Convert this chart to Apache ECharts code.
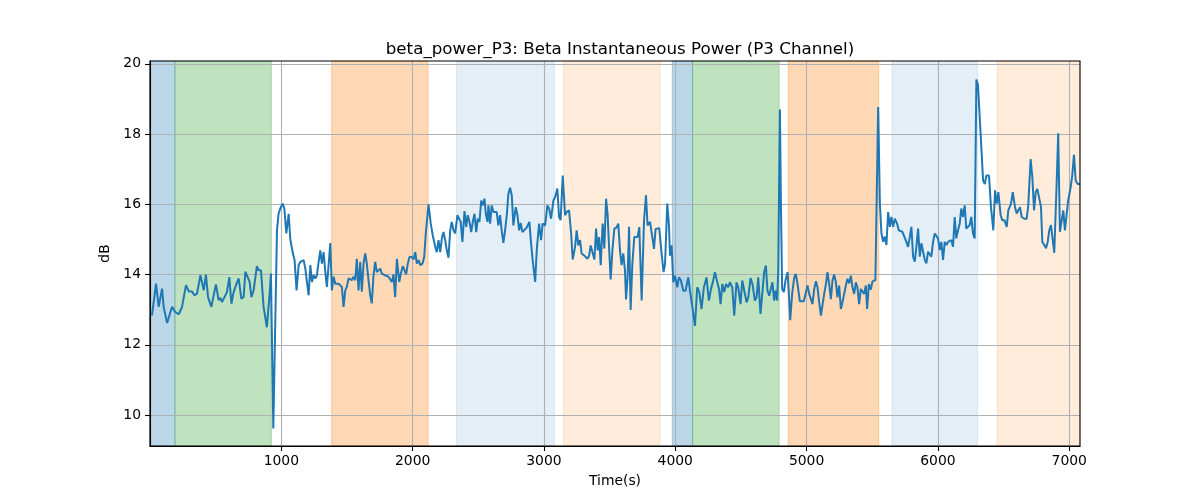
<!DOCTYPE html>
<html><head><meta charset="utf-8">
<script src="https://cdn.jsdelivr.net/npm/echarts@6/dist/echarts.min.js"></script>
<style>html,body{margin:0;padding:0;background:#fff}#c{width:1200px;height:500px}</style>
</head><body><div id="c"></div>
<script>
const times = [15,46,66,92,104,130,143,168,193,219,244,274,295,320,338,358,384,396,409,426,442,467,480,502,523,536,548,561,586,604,620,637,655,675,696,713,726,741,759,772,789,814,827,845,865,890,911,921,939,967,979,992,1010,1023,1038,1056,1068,1086,1101,1116,1132,1145,1157,1170,1183,1190,1208,1221,1233,1246,1259,1271,1284,1297,1309,1322,1335,1347,1360,1373,1385,1398,1411,1423,1436,1449,1461,1474,1487,1499,1512,1525,1537,1550,1563,1575,1588,1601,1613,1626,1639,1651,1664,1677,1689,1702,1715,1727,1740,1753,1765,1778,1791,1803,1816,1829,1842,1854,1867,1880,1898,1910,1925,1938,1951,1963,1976,1994,2007,2020,2032,2045,2058,2075,2088,2100,2121,2138,2153,2172,2184,2197,2210,2222,2235,2248,2260,2273,2286,2298,2311,2324,2341,2354,2366,2379,2395,2408,2420,2433,2446,2458,2471,2484,2496,2509,2522,2534,2547,2557,2570,2577,2590,2602,2615,2628,2640,2653,2666,2678,2691,2704,2717,2729,2742,2755,2767,2785,2798,2811,2823,2836,2849,2869,2889,2902,2914,2933,2945,2963,2978,2990,3009,3026,3039,3054,3072,3085,3102,3115,3127,3143,3161,3173,3191,3207,3219,3237,3249,3262,3275,3287,3300,3313,3331,3343,3356,3369,3384,3397,3409,3420,3432,3447,3460,3473,3485,3498,3508,3521,3536,3553,3566,3579,3591,3604,3617,3625,3637,3648,3660,3673,3688,3713,3726,3744,3762,3777,3789,3808,3820,3838,3850,3865,3878,3896,3911,3922,3939,3952,3960,3972,3985,3998,4015,4028,4043,4061,4078,4099,4112,4129,4150,4167,4183,4200,4218,4238,4256,4272,4289,4302,4320,4333,4345,4358,4373,4386,4403,4416,4434,4449,4466,4479,4497,4510,4525,4543,4556,4573,4588,4606,4619,4632,4649,4662,4677,4690,4702,4715,4728,4740,4753,4763,4776,4784,4797,4804,4814,4827,4839,4855,4865,4875,4890,4906,4918,4931,4949,4961,4979,4994,5007,5020,5033,5045,5058,5071,5083,5096,5109,5121,5134,5147,5159,5172,5185,5197,5210,5223,5235,5248,5261,5273,5286,5299,5311,5324,5337,5349,5362,5375,5387,5400,5413,5425,5438,5451,5461,5474,5489,5501,5524,5545,5558,5570,5583,5596,5608,5621,5634,5646,5659,5672,5689,5702,5714,5729,5742,5755,5773,5786,5798,5811,5824,5836,5849,5862,5874,5887,5900,5912,5925,5938,5950,5963,5976,5988,6001,6014,6026,6039,6052,6064,6077,6090,6102,6115,6128,6140,6153,6166,6178,6191,6204,6216,6229,6242,6254,6267,6280,6293,6305,6321,6344,6357,6369,6389,6404,6422,6435,6448,6460,6478,6490,6506,6524,6536,6557,6570,6587,6600,6612,6625,6638,6658,6676,6688,6706,6719,6732,6745,6757,6772,6785,6795,6810,6823,6836,6848,6861,6874,6886,6904,6916,6929,6942,6955,6967,6980,6992,7011,7023,7036,7049,7064,7082];
const powerDb = [12.84,13.74,13.08,13.6,13.08,12.62,12.65,13.08,12.93,12.87,13.08,13.7,13.52,13.52,13.41,13.46,13.98,14.0,13.55,14.0,13.36,13.08,13.12,13.72,13.27,13.34,13.22,13.31,13.5,13.93,13.17,13.5,13.7,13.89,13.31,13.36,14.08,14.08,13.79,13.36,13.55,14.24,14.12,14.12,13.08,12.5,13.46,14.03,9.62,15.26,15.73,15.88,16.02,15.88,15.17,15.73,15.02,14.64,14.41,13.55,14.27,14.36,14.31,14.41,14.17,13.94,13.41,14.27,13.79,13.98,13.89,13.98,14.36,14.69,14.31,14.64,14.07,13.65,13.6,14.9,13.55,13.94,13.74,13.79,13.74,13.7,13.65,13.08,13.55,13.65,13.89,13.94,13.84,13.94,13.84,14.45,13.55,14.36,13.51,14.31,14.6,14.31,13.84,13.41,13.18,13.98,14.36,14.07,14.12,14.17,14.03,14.03,13.98,14.01,13.94,13.94,13.79,14.01,13.36,14.45,13.79,14.03,14.24,14.12,14.01,14.31,14.5,14.5,14.43,14.64,14.31,14.41,14.27,14.31,14.5,15.17,16.0,15.45,15.12,14.79,14.64,14.98,14.64,15.02,15.21,14.98,14.69,14.48,15.26,15.5,15.26,15.17,15.69,15.73,15.5,14.93,15.81,15.36,15.69,15.5,15.21,15.5,15.73,15.21,15.59,15.5,16.11,15.97,16.16,15.73,15.5,15.97,15.45,15.97,15.78,15.83,15.78,15.4,15.69,15.26,14.9,15.26,15.69,16.3,16.47,16.25,15.4,15.92,15.69,15.26,15.47,15.21,15.26,15.34,15.5,14.88,14.41,13.79,14.69,15.45,14.98,15.45,15.4,15.97,15.88,15.59,16.11,16.21,16.45,15.64,15.55,16.82,15.69,15.78,15.83,15.17,14.43,14.79,15.26,14.83,14.98,14.6,14.55,14.52,14.45,14.52,14.83,14.79,14.43,15.31,14.69,15.07,14.27,15.45,14.74,16.16,15.69,14.6,13.86,14.69,15.31,15.34,15.45,14.69,14.27,14.6,14.12,13.29,13.93,15.36,12.99,14.3,15.07,15.07,15.35,13.26,15.54,16.26,15.4,15.5,15.45,14.73,15.3,15.26,15.32,14.59,14.07,14.3,16.02,15.4,14.54,14.83,13.78,13.97,13.64,13.92,13.83,13.54,13.54,13.92,13.54,13.11,12.54,13.64,13.5,13.02,13.64,13.92,13.26,13.59,13.83,14.07,13.78,13.59,13.16,13.73,13.5,13.73,13.64,13.78,13.64,12.83,13.78,13.64,13.16,13.83,13.83,13.21,13.35,13.9,13.73,13.26,13.35,13.92,12.88,12.88,14.07,14.26,13.54,13.4,13.35,13.78,13.26,13.54,13.26,14.11,18.7,16.11,13.59,13.5,13.83,14.07,13.45,12.7,13.45,13.92,14.02,13.73,13.24,13.26,13.24,13.26,13.69,13.45,13.4,13.16,13.59,13.81,13.64,13.21,12.83,12.83,13.45,13.73,14.07,13.73,13.3,13.83,14.0,13.78,13.35,13.69,13.02,13.21,13.45,13.69,13.88,13.75,13.97,13.64,13.45,13.78,13.64,13.16,13.59,13.64,13.45,13.69,13.02,13.73,13.57,13.8,13.85,18.77,16.02,15.17,14.93,15.08,14.84,15.78,15.36,15.64,15.36,15.59,15.45,15.26,15.31,15.22,15.17,14.98,14.79,15.08,15.36,14.51,14.37,14.79,15.31,14.51,14.89,14.93,14.42,14.32,14.65,14.7,14.51,14.93,15.17,15.12,15.03,14.7,14.93,14.42,14.93,14.84,14.93,14.93,14.98,14.79,15.64,15.03,15.26,15.45,15.88,15.64,15.97,15.31,15.31,15.41,15.64,15.17,15.03,19.55,19.4,18.3,16.68,16.58,16.82,16.82,15.92,15.26,16.4,16.02,16.35,15.69,15.55,15.55,15.36,15.83,16.02,16.35,15.92,15.74,15.74,15.92,15.64,15.59,15.59,15.97,17.29,16.77,15.83,16.35,16.44,16.44,15.92,14.93,14.84,14.75,14.93,15.26,15.41,15.41,14.62,16.58,18.02,15.22,15.22,15.83,15.26,15.26,16.11,16.49,16.82,17.41,16.68,16.58,16.58];

const bandStarts = [0, 190, 1383, 2334, 3148, 3977, 4132, 4860, 5651, 6450];
const bandEnds   = [190, 924, 2118, 3079, 3884, 4132, 4791, 5550, 6303, 7082];
const bandKinds  = ['blue','green','orange','lightblue','lightorange','blue','green','orange','lightblue','lightorange'];

const xTicks = [1000, 2000, 3000, 4000, 5000, 6000, 7000];
const yTicks = [10, 12, 14, 16, 18, 20];

const titleText = 'beta_power_P3: Beta Instantaneous Power (P3 Channel)';
const xName = 'Time(s)';
const yName = 'dB';

const kindColor = {
  blue: 'rgba(31,119,180,0.3)',
  green: 'rgba(44,160,44,0.3)',
  orange: 'rgba(255,127,14,0.3)',
  lightblue: 'rgba(31,119,180,0.12)',
  lightorange: 'rgba(255,127,14,0.15)'
};

const lineData = times.map((t, i) => [t, powerDb[i]]);
const areas = bandStarts.map((s, i) => [
  { xAxis: s, itemStyle: { color: kindColor[bandKinds[i]], borderColor: kindColor[bandKinds[i]], borderWidth: 1 } },
  { xAxis: bandEnds[i] }
]);

const FONT = 'DejaVu Sans';
const chart = echarts.init(document.getElementById('c'), null, { renderer: 'canvas' });
chart.setOption({
  animation: false,
  backgroundColor: '#fff',
  title: {
    text: titleText, left: 615, top: 36, textAlign: 'center',
    textStyle: { fontFamily: FONT, fontSize: 16.7, fontWeight: 'normal', color: '#000' }
  },
  grid: { left: 150, right: 120, top: 61, bottom: 54, show: true, borderColor: '#000', borderWidth: 1.1, backgroundColor: 'transparent', containLabel: false, z: 4 },
  xAxis: {
    type: 'value', min: 0, max: 7082, z: 2,
    name: xName, nameLocation: 'middle', nameGap: 28,
    nameTextStyle: { fontFamily: FONT, fontSize: 13.9, color: '#000' },
    axisLine: { show: true, onZero: false, lineStyle: { color: '#000', width: 1.1 } },
    axisTick: { show: true, length: 5, lineStyle: { color: '#000', width: 1.1 }, customValues: xTicks },
    axisLabel: { fontFamily: FONT, fontSize: 13.9, color: '#000', margin: 8, customValues: xTicks, formatter: v => String(v) },
    splitLine: { show: true, lineStyle: { color: '#b0b0b0', width: 1.1 } }
  },
  yAxis: {
    type: 'value', min: 9.12, max: 20.08, z: 2,
    name: yName, nameLocation: 'middle', nameGap: 30, nameRotate: 90,
    nameTextStyle: { fontFamily: FONT, fontSize: 13.9, color: '#000' },
    axisLine: { show: true, onZero: false, lineStyle: { color: '#000', width: 1.1 } },
    axisTick: { show: true, length: 5, lineStyle: { color: '#000', width: 1.1 }, customValues: yTicks },
    axisLabel: { fontFamily: FONT, fontSize: 13.9, color: '#000', margin: 9, customValues: yTicks, formatter: v => String(v) },
    splitLine: { show: true, lineStyle: { color: '#b0b0b0', width: 1.1 } }
  },
  series: [
    {
      type: 'line', data: [], z: 1, silent: true,
      markArea: { silent: true, data: areas }
    },
    {
      type: 'line', data: lineData, showSymbol: false, symbol: 'none', z: 3,
      lineStyle: { color: '#1f77b4', width: 2 }, itemStyle: { color: '#1f77b4' },
      clip: true
    }
  ]
});
</script></body></html>
